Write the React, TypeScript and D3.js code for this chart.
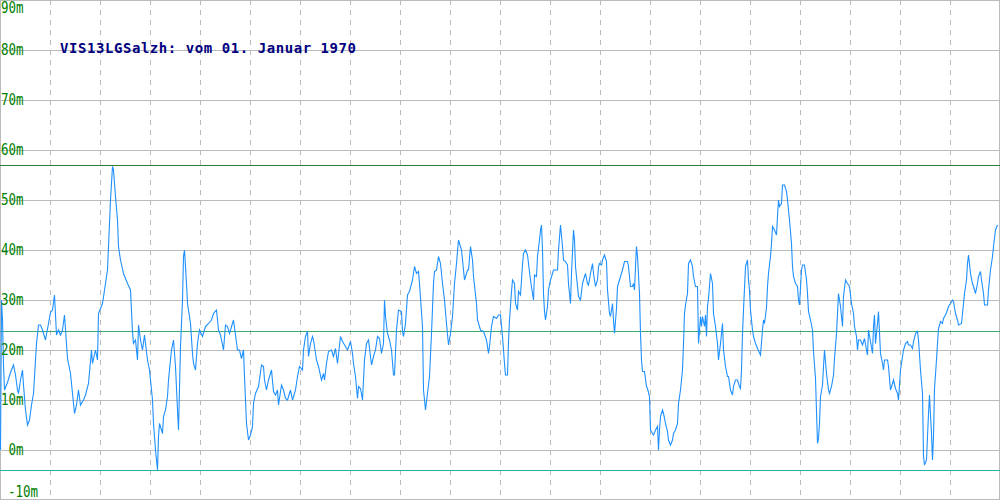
import React from 'react';
import * as d3 from 'd3';

// sample index (one per pixel column of the original plot) and level in m
const part1: [number, number][] = [
  [0, 0], [1, 30], [2, 26], [3, 17], [4, 12], [7, 13.5], [10, 15.5], [13, 17], [15, 15], [17, 12],
  [18, 11.3], [20, 14], [22, 16], [23, 13], [25, 8], [27, 5], [29, 6], [31, 9], [33, 11.3], [36, 21.3],
  [38, 25], [40, 25], [42, 24], [45, 22], [48, 25.3], [50, 27.5], [52, 28], [54, 31], [56, 23], [58, 24],
  [60, 23], [62, 24], [64, 27], [67, 18.3], [70, 15.3], [72, 11.3], [74, 7.3], [76, 9], [78, 12], [80, 9],
  [83, 10], [85, 11], [88, 13.3], [91, 20], [92, 17.3], [95, 20], [97, 18], [98, 27.3], [102, 29.3], [105, 33.3],
  [107, 36], [108, 40.7], [110, 50], [112, 56.7], [113, 56], [115, 50.7], [117, 46], [118, 40.7], [120, 38], [123, 35.3],
  [127, 33.3], [130, 32], [132, 23.7], [133, 21.3], [135, 22], [137, 18], [138, 25], [140, 22], [142, 20], [144, 23],
  [147, 18], [149, 16], [152, 10], [153, 5.3], [155, 0], [157, -4], [158, 2.7], [159, 5.3], [162, 3.3], [163, 6.7],
  [165, 8], [167, 10.7], [168, 14], [171, 20], [173, 22], [175, 16.7], [177, 8], [178, 4], [180, 20.7], [182, 30],
  [183, 38.7], [184, 40], [186, 33.3], [187, 29.3], [190, 25.3], [192, 19.3], [193, 17.3], [195, 16], [197, 21.3], [199, 24],
  [202, 22.7], [205, 24.7], [208, 25.3], [211, 26], [213, 27.3], [216, 28], [218, 24], [220, 23], [223, 20], [225, 25],
  [227, 24.7], [229, 23.3], [233, 26], [235, 23], [237, 20], [239, 20], [241, 18.3], [243, 20], [244, 14.7], [246, 5.3],
  [248, 2], [250, 3],
];

const part2: [number, number][] = [
  [252, 4.7], [253, 9.3], [255, 11.3], [258, 12.7], [261, 17], [263, 16.7], [264, 14], [266, 12], [268, 14], [271, 16],
  [273, 11.7], [275, 11], [277, 12], [278, 9], [281, 13], [283, 12], [285, 10.3], [287, 10], [290, 12], [292, 10],
  [295, 12], [297, 14.7], [299, 16.7], [302, 16], [303, 20], [305, 22.7], [307, 23.7], [308, 18.7], [310, 21.3], [312, 22.7],
  [313, 22], [316, 18], [318, 16.7], [321, 14], [323, 15.3], [324, 14], [326, 17.3], [328, 19.7], [331, 20], [333, 18.7],
  [335, 20.3], [337, 17.3], [340, 22.7], [342, 21.7], [345, 20.7], [347, 20], [350, 21.7], [352, 19.3], [353, 17.3], [355, 14.7],
  [357, 10.3], [358, 12.7], [360, 12.3], [362, 10], [364, 18], [366, 21.3], [368, 22], [371, 17], [373, 18.7], [375, 20],
  [377, 22.7], [379, 22.3], [381, 19.3], [383, 21.3], [384, 30], [385, 26.7], [387, 23.3], [389, 22], [391, 20], [393, 15],
  [394, 15], [396, 24], [398, 28], [401, 27.7], [402, 23.7], [403, 22.7], [405, 25.3], [407, 31], [409, 31.7], [412, 34],
  [414, 36.7], [416, 35.3], [418, 35.7], [419, 33.3], [422, 24.7], [423, 12], [425, 8], [427, 11.3], [429, 14.7], [431, 23.3],
  [433, 33.3], [434, 35.7], [436, 36], [438, 38.7], [440, 37.3], [442, 33.3], [444, 30], [446, 25.3], [448, 21], [450, 23.3],
  [452, 26.7], [454, 33.3], [456, 37.3], [458, 42], [461, 40], [463, 36], [464, 34], [467, 36], [468, 36], [470, 40.7],
  [472, 38], [473, 34.7], [476, 29.3], [477, 26], [480, 24], [483, 23.7], [486, 22], [488, 19.3], [489, 20.7], [491, 24.7],
  [493, 26.7], [496, 26.3], [498, 27],
];

const part3: [number, number][] = [
  [500, 27], [502, 22.7], [504, 17.3], [505, 15], [507, 15], [508, 21.7], [509, 26], [511, 31.7], [512, 34], [514, 33.3],
  [515, 29.3], [517, 28], [518, 31.7], [520, 31], [522, 37], [523, 39.3], [525, 40], [527, 39], [528, 37.3], [530, 34],
  [532, 31.3], [533, 30], [534, 35], [536, 34.7], [537, 38.7], [539, 42], [540, 44], [541, 45], [542, 40], [543, 31.3],
  [544, 27.7], [545, 26], [547, 28.7], [548, 32], [550, 34], [552, 35.3], [553, 36], [557, 36], [558, 40], [560, 45],
  [562, 40.7], [563, 38], [565, 37.7], [567, 37], [568, 33.3], [570, 29.3], [571, 35.3], [573, 44], [574, 42], [575, 36.7],
  [577, 32.7], [578, 30.7], [580, 30], [582, 33.3], [583, 34], [585, 35.3], [587, 33.3], [588, 33], [590, 35.3], [592, 37.3],
  [593, 35.3], [595, 32.7], [597, 34], [598, 36.7], [599, 37.3], [601, 37], [602, 38], [604, 39], [606, 37.7], [607, 32],
  [609, 27.3], [610, 26.7], [612, 29.3], [613, 26], [614, 23.3], [616, 28.3], [617, 32.7], [619, 34], [622, 36], [624, 37.7],
  [627, 37.7], [628, 36.7], [630, 32.7], [632, 32.7], [633, 33.3], [634, 32], [635, 36.7], [636, 40.7], [637, 38.7], [639, 31.3],
  [640, 23.3], [641, 18], [642, 15.7], [644, 15.7], [646, 12.7], [647, 12.3], [649, 10.7], [650, 4], [652, 3.3], [653, 3],
  [655, 4], [657, 4.7], [658, 0], [659, 4], [660, 6.7], [662, 8], [663, 7.3], [665, 5.3], [667, 3.7], [668, 2],
  [670, 1], [672, 2], [673, 3.3], [675, 4], [677, 5.3], [678, 9.3], [680, 12], [682, 16], [683, 21.3], [684, 27.3],
  [685, 29], [687, 31.3], [688, 37.3], [690, 38], [692, 36.7], [693, 34.7], [695, 32.7], [697, 32.7], [698, 21.3], [700, 26.7],
  [701, 24.7], [702, 26.7], [704, 24.7], [705, 27], [706, 22.7], [707, 28.7], [708, 30.3], [710, 35.3], [712, 33.3], [713, 27.3],
  [715, 24.7], [717, 21.3], [718, 18], [720, 21.3], [722, 25.3], [723, 20], [725, 16.7], [727, 14.7], [728, 14.7], [730, 12],
  [732, 11], [733, 12.7], [735, 14], [737, 14], [739, 12.7], [740, 12.3], [741, 16], [742, 23.3], [743, 28], [745, 36.7],
  [747, 38], [748, 34], [749, 32],
];

const part4: [number, number][] = [
  [750, 28], [752, 24], [753, 22.7], [755, 21.3], [757, 20.3], [760, 19], [762, 24], [763, 26], [764, 25.3], [766, 28.5],
  [767, 32.7], [768, 35.3], [770, 38.7], [771, 41.3], [772, 44.7], [774, 44], [776, 43], [777, 46.7], [778, 50], [779, 48.7],
  [781, 49.3], [782, 53], [784, 53], [786, 51.7], [787, 50], [789, 46], [791, 41.3], [792, 36.7], [793, 34.7], [795, 33.3],
  [797, 32.7], [798, 30], [799, 29], [801, 36], [802, 37], [804, 37], [806, 34], [807, 31.3], [808, 27.7], [810, 26],
  [812, 24], [813, 19.7], [815, 14.3], [817, 1.3], [818, 2.3], [819, 5.3], [820, 10.7], [822, 13], [823, 16.7], [824, 20],
  [826, 15.3], [828, 12], [829, 11.3], [831, 12.7], [833, 15], [834, 18.3], [836, 23.3], [837, 27.3], [838, 31.3], [840, 28.7],
  [842, 24.7], [843, 30.7], [845, 34], [847, 33.3], [849, 32.7], [851, 29.3], [853, 27.3], [854, 24.7], [856, 22.7], [857, 20],
  [858, 22], [860, 22], [862, 21], [864, 22.3], [866, 20], [867, 19], [868, 24], [870, 21.7], [872, 19.3], [873, 24.7],
  [874, 27], [875, 21.3], [877, 25.3], [878, 27.7], [880, 19.3], [882, 17.3], [883, 16], [884, 18], [887, 18], [888, 16.7],
  [890, 12], [892, 13.3], [893, 14], [895, 12.3], [897, 11.3], [898, 10], [900, 16], [902, 18.7], [903, 20], [905, 21.3],
  [907, 21.7], [908, 21], [910, 21], [912, 20.3], [913, 21.7], [915, 23.3], [917, 23.7], [918, 22], [920, 16], [922, 11.3],
  [923, -1.3], [924, -3], [926, -2], [928, 7.3], [929, 11], [930, 7], [931, 3.3], [932, -2], [933, 2.7], [934, 12.3],
  [936, 18], [937, 21.3], [938, 24.3], [940, 25.7], [942, 25.3], [943, 26.3], [945, 27], [947, 28], [948, 28.7], [950, 29.3],
  [952, 30], [953, 29.7], [955, 27.3], [957, 26], [958, 25], [961, 25.3], [962, 27.3], [964, 31.3], [966, 34], [967, 37.3],
  [968, 39], [970, 35.3], [972, 33.3], [973, 32.7], [975, 31.3], [977, 33.3], [978, 34.7], [980, 35.7], [981, 34], [983, 31.3],
  [984, 29], [987, 29], [988, 32], [990, 36], [992, 38.7], [993, 40.7], [995, 44], [997, 45],
];

const series = [...part1, ...part2, ...part3, ...part4];

// max / average / min markers
const refLevels = [57, 23.8, -4];
const refColors = ['#2E7D32', '#3CAA6A', '#20B2AA'];

const yTicks = [90, 80, 70, 60, 50, 40, 30, 20, 10, 0, -10];
const title = 'VIS13LGSalzh: vom 01. Januar 1970';

const W = 1000;
const H = 500;

export default function App() {
  const x = d3.scaleLinear().domain([0, 1000]).range([0, W]);
  const y = d3.scaleLinear().domain([-10, 90]).range([H, 0]);
  const xGrid = x.ticks(20).filter(t => t > 0 && t < 1000);

  const line = d3.line<[number, number]>()
    .x(d => x(d[0]) + 0.5)
    .y(d => y(d[1]));

  const px = (v: number) => Math.round(v) + 0.5;

  return (
    <div style={{ position: 'absolute', left: 0, top: 0, width: W, height: H, background: '#fff' }}>
      <svg width={W} height={H} style={{ display: 'block' }}>
        <rect x={0} y={0} width={W} height={H} fill="#ffffff" />
        {/* vertical dashed grid */}
        {xGrid.map(t => (
          <line key={'v' + t} x1={px(x(t))} x2={px(x(t))} y1={0} y2={H}
            stroke="#BBBBBB" strokeDasharray="5,5" shapeRendering="crispEdges" />
        ))}
        {/* horizontal grid */}
        {yTicks.map(t => (
          <line key={'h' + t} x1={0} x2={W} y1={px(y(t))} y2={px(y(t))}
            stroke="#BBBBBB" shapeRendering="crispEdges" />
        ))}
        <rect x={0.5} y={0.5} width={W - 1} height={H - 1} fill="none" stroke="#BBBBBB" shapeRendering="crispEdges" />
        {/* reference levels */}
        {refLevels.map((lv, i) => (
          <line key={'r' + i} x1={0} x2={W} y1={px(y(lv))} y2={px(y(lv))}
            stroke={refColors[i]} shapeRendering="crispEdges" />
        ))}
        {/* series */}
        <path d={line(series) ?? ''} fill="none" stroke="#1E90FF" strokeWidth={1.1} />
        {/* y labels */}
        {yTicks.map(t => {
          const base = Math.min(Math.max(y(t) + 5, 13), 497);
          const neg = t < 0;
          return (
            <text key={'l' + t} transform={`translate(${neg ? 8 : 23.5},${base}) scale(1,1.25)`}
              textAnchor={neg ? 'start' : 'end'} fill="#008000"
              fontFamily="DejaVu Sans Mono" fontSize={12.5}>
              {t + 'm'}
            </text>
          );
        })}
        <text x={60} y={53} fill="#000080" fontFamily="DejaVu Sans Mono" fontWeight="bold"
          fontSize={14} textLength={296} lengthAdjust="spacing">
          {title}
        </text>
      </svg>
    </div>
  );
}
